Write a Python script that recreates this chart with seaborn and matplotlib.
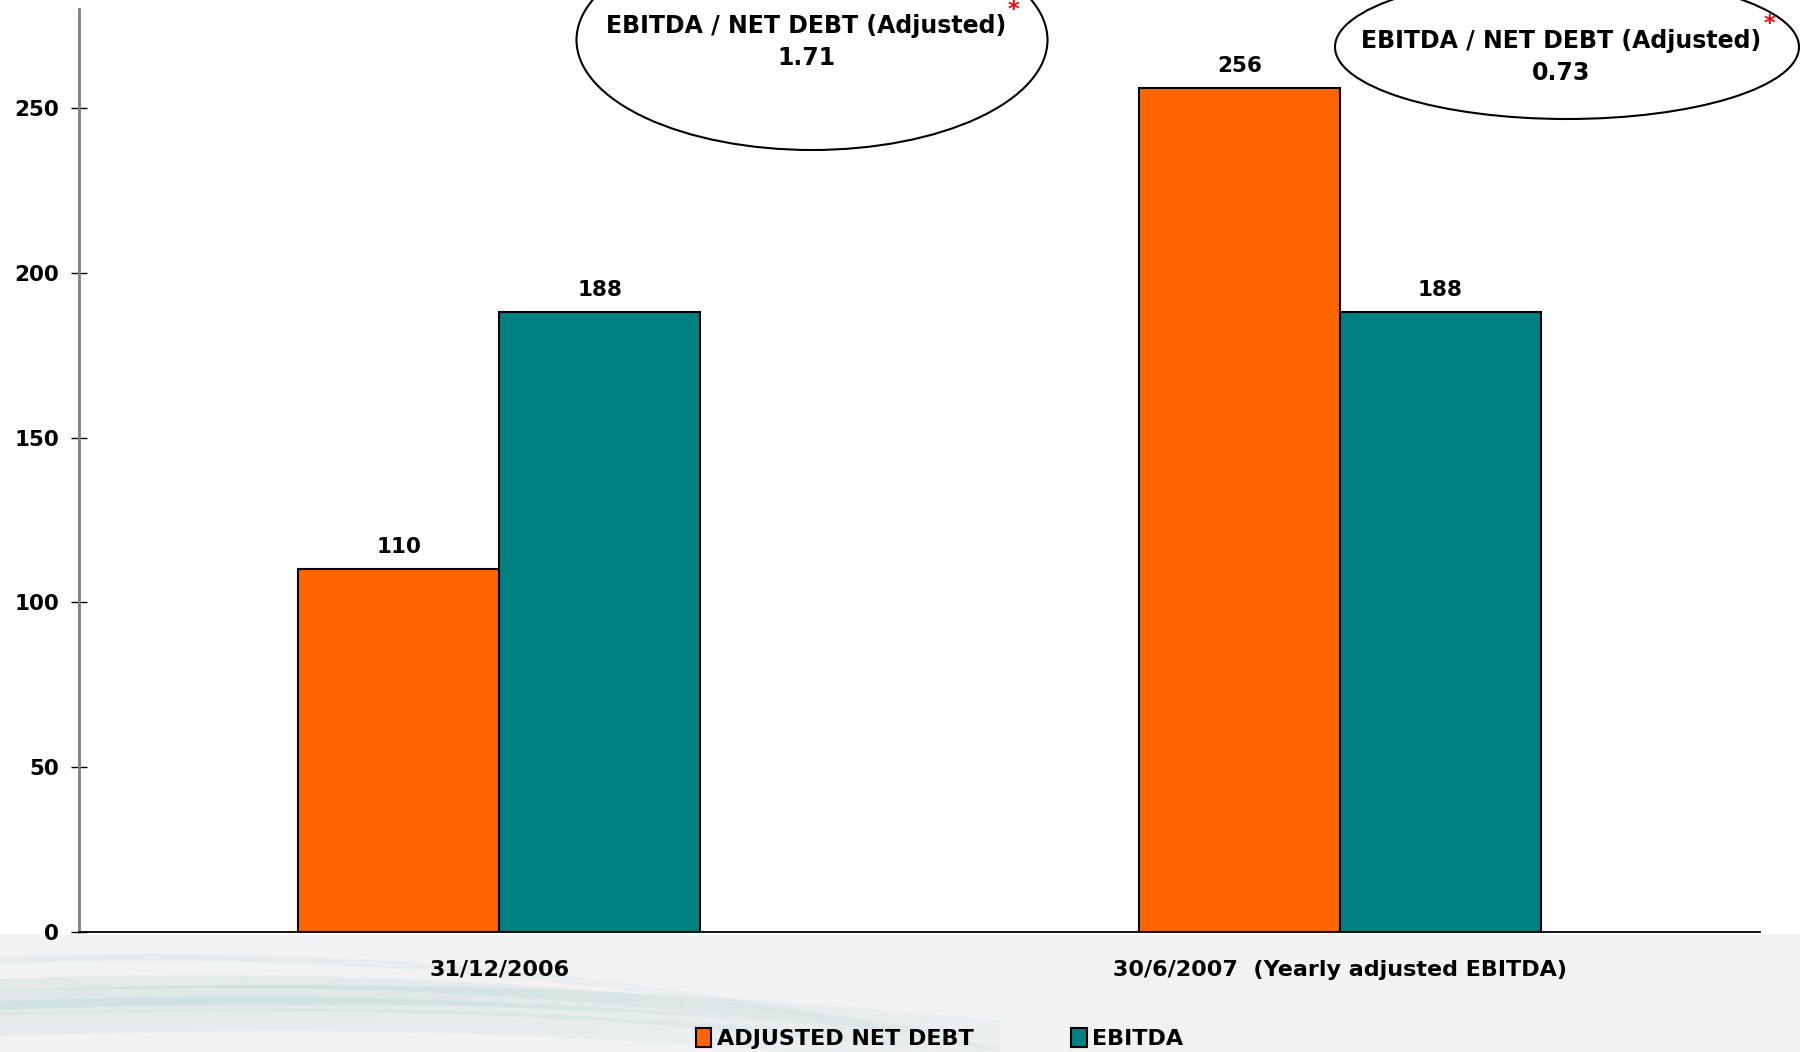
import numpy as np
import pandas as pd
import matplotlib.pyplot as plt
import seaborn as sns
from matplotlib.patches import Ellipse, Rectangle, Patch

periods = ['31/12/2006', '30/6/2007  (Yearly adjusted EBITDA)']
series = ['ADJUSTED NET DEBT', 'EBITDA']
net_debt = [110, 256]
ebitda = [188, 188]
ratios = ['1.71', '0.73']
colors = ['#ff6600', '#008080']

df = pd.DataFrame({
    'period': periods * 2,
    'series': [series[0]] * 2 + [series[1]] * 2,
    'value': net_debt + ebitda,
})

sns.set_style('white')
plt.rcParams['font.family'] = ['DejaVu Sans']
plt.rcParams['text.color'] = 'black'
plt.rcParams['xtick.color'] = 'black'
plt.rcParams['ytick.color'] = 'black'

W, H = 1800, 1052
fig = plt.figure(figsize=(18, 10.52), dpi=100)

# background: grey strip at the bottom with a faint teal swoosh
bg = fig.add_axes([0, 0, 1, 1], zorder=-2)
bg.set_xlim(0, W)
bg.set_ylim(H, 0)
bg.axis('off')
bg.add_patch(Rectangle((0, 935), W, H - 935, color='#f2f2f2', lw=0))
xs = np.linspace(0, 1000, 300)
for y0, y1, lw, a in [(960, 1052, 5, 0.10), (985, 1045, 9, 0.14), (1000, 1030, 14, 0.18),
                      (1008, 1052, 10, 0.14), (1025, 1060, 16, 0.12)]:
    t = xs / 1000
    ys = y0 + (y1 - y0) * t ** 2 - 10 * np.sin(np.pi * t)
    fade = a * np.clip(1.3 - t, 0, 1)
    for i in range(0, len(xs) - 1, 6):
        bg.plot(xs[i:i + 7], ys[i:i + 7], color='#7fbcb6', lw=lw, alpha=fade[i],
                solid_capstyle='butt')

ax = fig.add_axes([79 / W, (H - 932) / H, (1760 - 79) / W, (932 - 9) / H])
ax.patch.set_alpha(0)
sns.barplot(data=df, x='period', y='value', hue='series', palette=colors, saturation=1,
            width=0.478, edgecolor='black', linewidth=1.5, errorbar=None,
            legend=False, ax=ax)

for c in ax.containers:
    ax.bar_label(c, fmt='%d', padding=9, fontsize=15.5, fontweight='bold', color='black')

ax.set_xlim(-0.5, 1.5)
ax.set_ylim(0, 280)
ax.set_yticks(range(0, 251, 50))
ax.set_xlabel('')
ax.set_ylabel('')
ax.set_xticks([-0.5, 0.5, 1.5], minor=True)
ax.tick_params(axis='x', which='major', length=0, pad=20, labelsize=16)
ax.tick_params(axis='x', which='minor', direction='inout', length=11, width=1, color='black')
ax.tick_params(axis='y', direction='inout', length=11, width=1, color='black',
               pad=9, labelsize=15.5, left=True)
for lab in ax.get_xticklabels() + ax.get_yticklabels():
    lab.set_fontweight('bold')
sns.despine(ax=ax)
ax.spines['left'].set_color('#808080')
ax.spines['left'].set_linewidth(2)
ax.spines['bottom'].set_color('black')
ax.spines['bottom'].set_linewidth(1.3)

# ratio callouts
ov = fig.add_axes([0, 0, 1, 1], zorder=5)
ov.set_xlim(0, W)
ov.set_ylim(H, 0)
ov.axis('off')
ov.patch.set_alpha(0)
callouts = [((812, 40), 471, 220, (806, 26), (806, 58), (1013, 0)),
            ((1567, 47), 464, 144, (1561, 41), (1561, 73), (1769, 14))]
for (ctr, w, h, t1, t2, spos), r in zip(callouts, ratios):
    ov.add_patch(Ellipse(ctr, w, h, fill=False, ec='black', lw=1.5))
    ov.text(t1[0], t1[1], 'EBITDA / NET DEBT (Adjusted)', ha='center', va='center',
            fontsize=17, fontweight='bold')
    ov.text(t2[0], t2[1], r, ha='center', va='center', fontsize=17, fontweight='bold')
    ov.text(spos[0], spos[1], '*', ha='center', va='top', fontsize=16,
            fontweight='bold', color='red')

handles = [Patch(facecolor=colors[i], edgecolor='black', lw=1.5, label=series[i]) for i in range(2)]
fig.legend(handles=handles, loc='center', bbox_to_anchor=(0.522, 0.0125), ncol=2,
           frameon=False, handlelength=0.7, handleheight=0.9, handletextpad=0.25,
           columnspacing=4.4, prop={'size': 16, 'weight': 'bold'})

fig.savefig('out.png', dpi=100)
